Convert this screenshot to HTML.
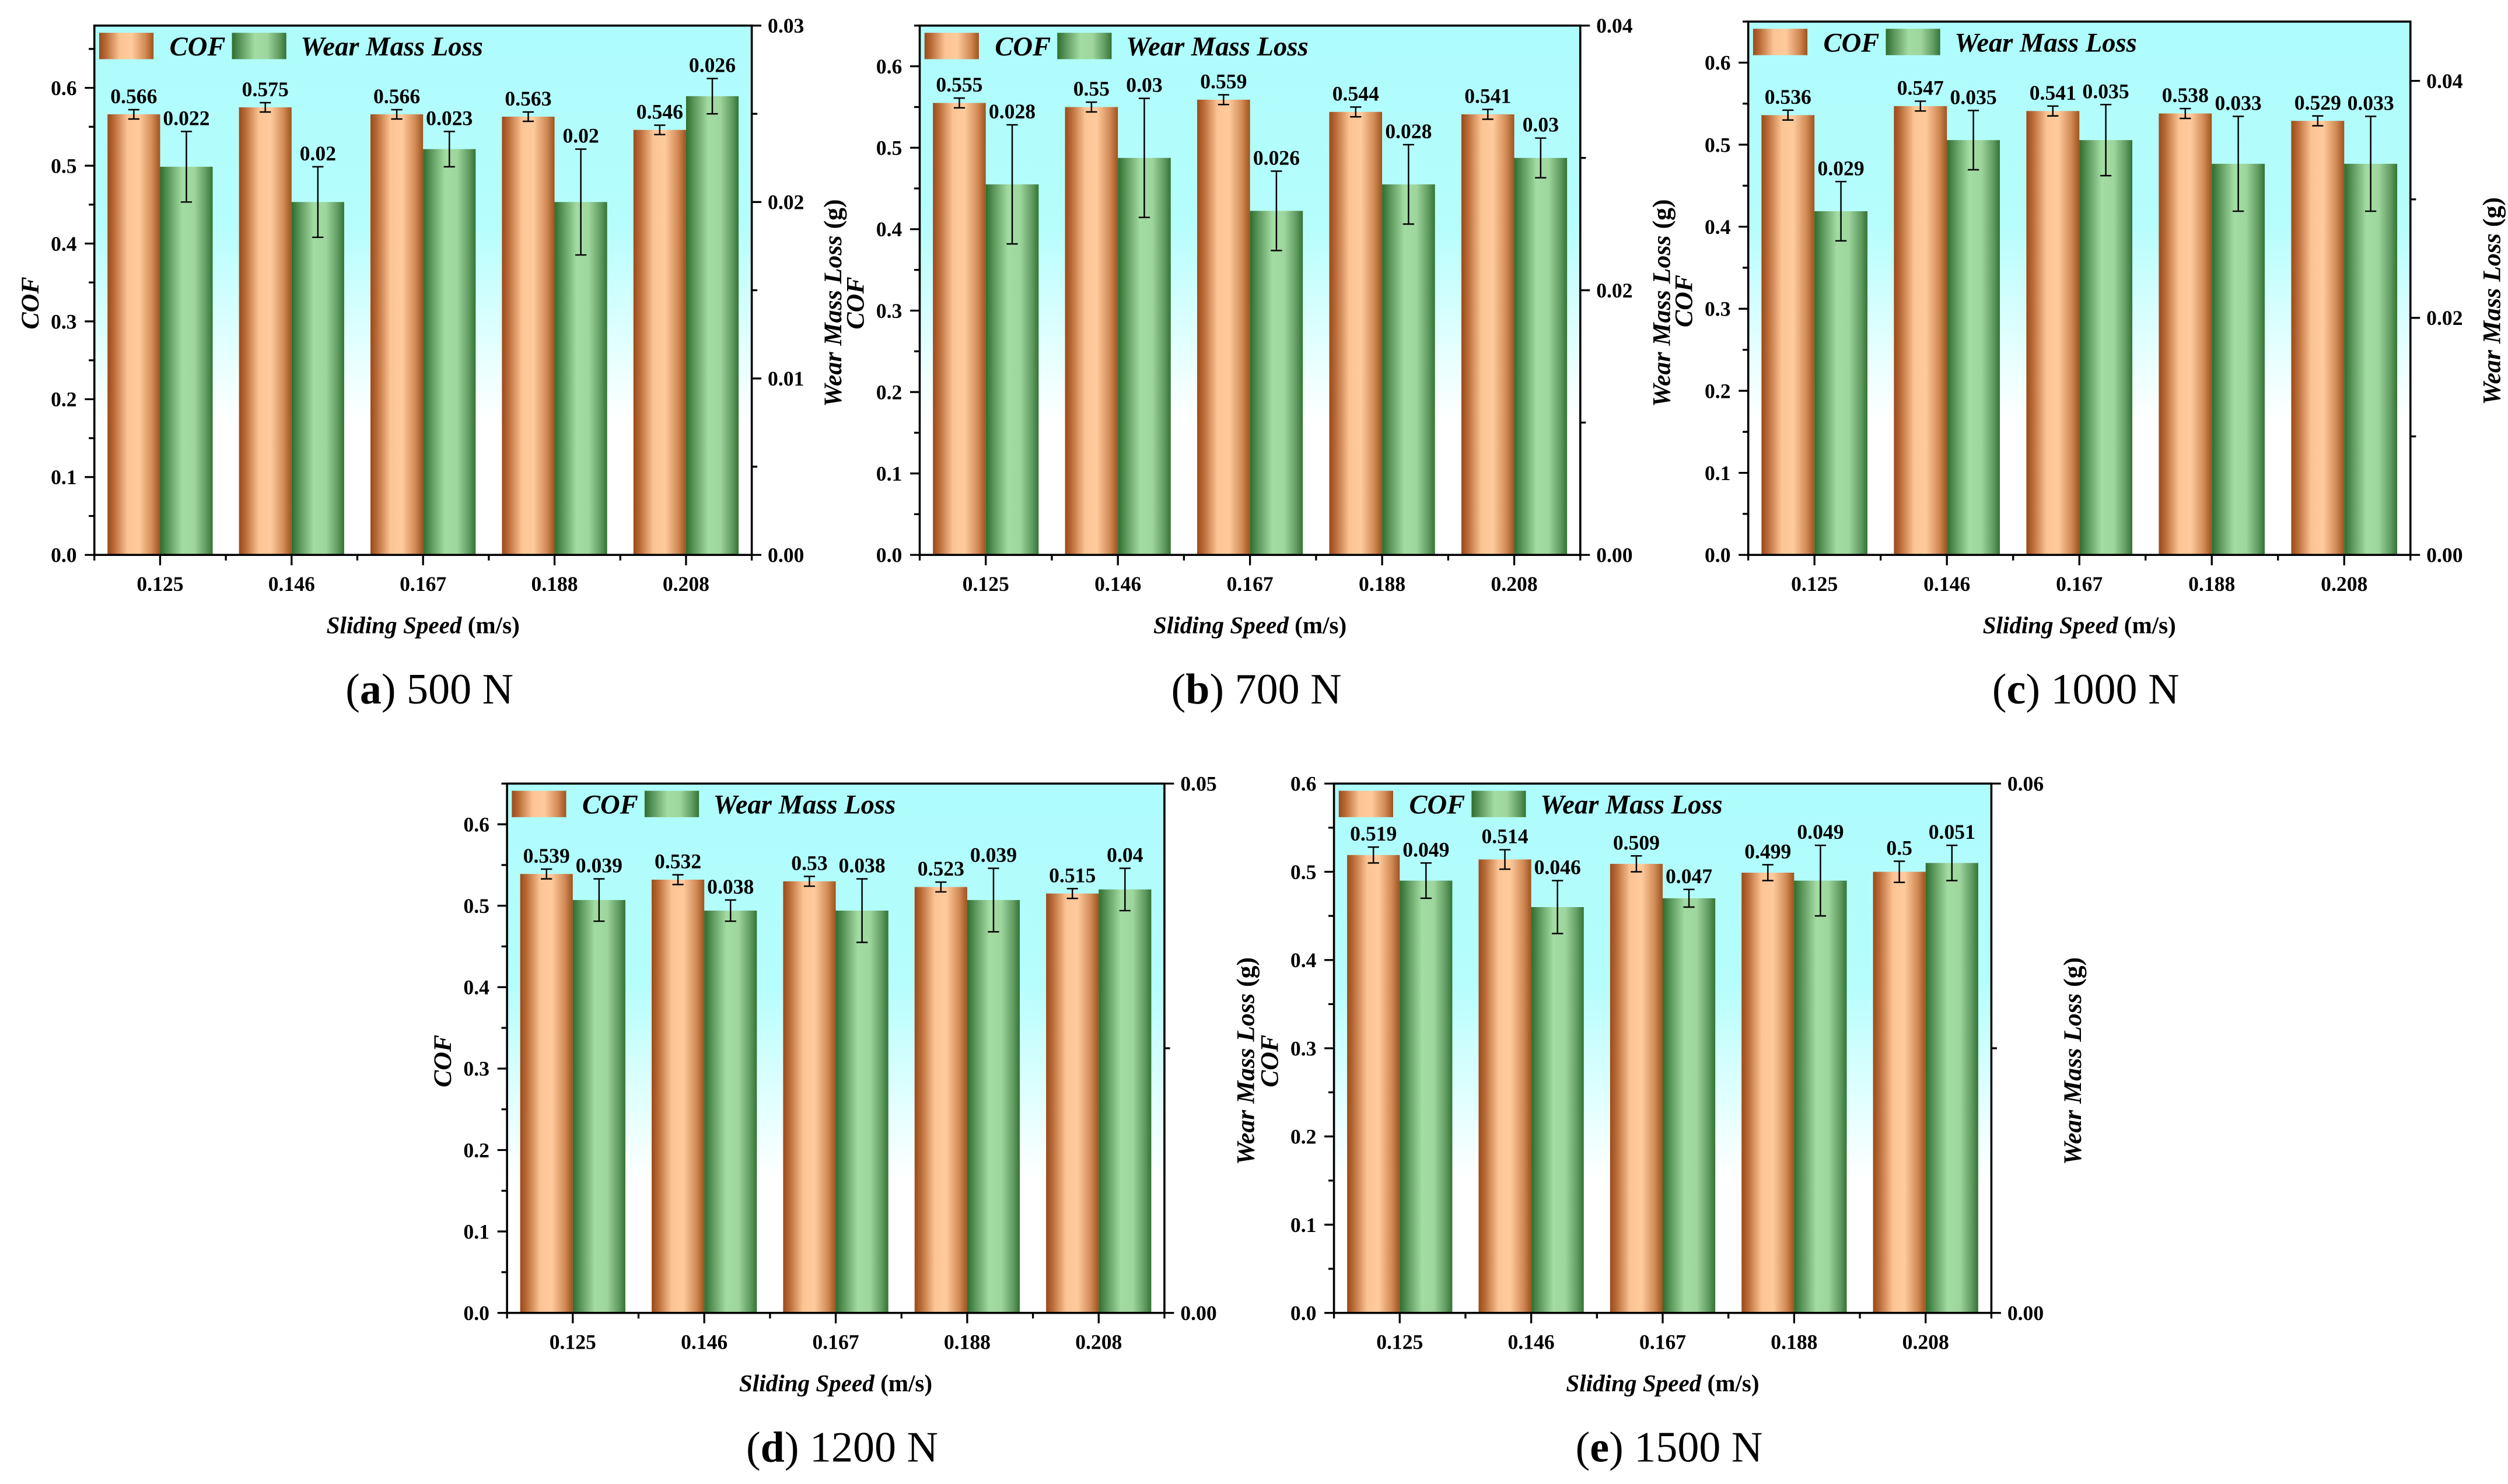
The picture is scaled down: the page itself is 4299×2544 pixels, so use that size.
<!DOCTYPE html>
<html><head><meta charset="utf-8">
<style>
html,body{margin:0;padding:0;background:#fff;}
svg{display:block;}
text{font-family:"Liberation Serif",serif;fill:#000;}
</style></head>
<body>
<svg id="fig" xmlns="http://www.w3.org/2000/svg" width="4299" height="2544" viewBox="0 0 1568 928" preserveAspectRatio="none">
<defs>
<linearGradient id="gCof" x1="0" y1="0" x2="1" y2="0">
<stop offset="0" stop-color="#9a4a1a"/><stop offset="0.12" stop-color="#b86a36"/>
<stop offset="0.38" stop-color="#fcc494"/><stop offset="0.6" stop-color="#ffcb9c"/>
<stop offset="0.85" stop-color="#d08a55"/><stop offset="1" stop-color="#a0521e"/>
</linearGradient>
<linearGradient id="gWear" x1="0" y1="0" x2="1" y2="0">
<stop offset="0" stop-color="#2e6e2e"/><stop offset="0.15" stop-color="#5a955a"/>
<stop offset="0.42" stop-color="#a2dca2"/><stop offset="0.65" stop-color="#9ed69e"/>
<stop offset="0.88" stop-color="#5f9a5f"/><stop offset="1" stop-color="#347434"/>
</linearGradient>
<linearGradient id="gBg" x1="0" y1="0" x2="0" y2="1">
<stop offset="0" stop-color="#aefcfc"/><stop offset="0.38" stop-color="#b6fdfd"/>
<stop offset="0.62" stop-color="#e6ffff"/><stop offset="0.75" stop-color="#ffffff"/>
<stop offset="1" stop-color="#ffffff"/>
</linearGradient>
</defs>
<g id="root"></g>
</svg>
<script>
const categories = ["0.125","0.146","0.167","0.188","0.208"];
const cofA = [0.566,0.575,0.566,0.563,0.546];
const cofErrA = [0.006,0.006,0.006,0.006,0.006];
const wearA = [0.022,0.020,0.023,0.020,0.026];
const wearErrA = [0.002,0.002,0.001,0.003,0.001];
const cofB = [0.555,0.550,0.559,0.544,0.541];
const cofErrB = [0.006,0.006,0.006,0.006,0.006];
const wearB = [0.028,0.030,0.026,0.028,0.030];
const wearErrB = [0.0045,0.0045,0.003,0.003,0.0015];
const cofC = [0.536,0.547,0.541,0.538,0.529];
const cofErrC = [0.006,0.006,0.006,0.006,0.006];
const wearC = [0.029,0.035,0.035,0.033,0.033];
const wearErrC = [0.0025,0.0025,0.003,0.004,0.004];
const cofD = [0.539,0.532,0.530,0.523,0.515];
const cofErrD = [0.006,0.006,0.006,0.006,0.006];
const wearD = [0.039,0.038,0.038,0.039,0.040];
const wearErrD = [0.002,0.001,0.003,0.003,0.002];
const cofE = [0.519,0.514,0.509,0.499,0.500];
const cofErrE = [0.009,0.011,0.009,0.009,0.012];
const wearE = [0.049,0.046,0.047,0.049,0.051];
const wearErrE = [0.002,0.003,0.001,0.004,0.002];
const cofTicks = [0,0.1,0.2,0.3,0.4,0.5,0.6];
const wearTicksA = [0,0.01,0.02,0.03];
const wearTicksB = [0,0.02,0.04];
const wearTicksC = [0,0.02,0.04];
const wearTicksD = [0,0.05];
const wearTicksE = [0,0.06];
const captionLetters = ["a","b","c","d","e"];
const captionLoads = ["500 N","700 N","1000 N","1200 N","1500 N"];

const NS="http://www.w3.org/2000/svg";
const root=document.getElementById('root');
function mk(tag,attrs,parent){const e=document.createElementNS(NS,tag);for(const k in attrs)e.setAttribute(k,attrs[k]);(parent||root).appendChild(e);return e;}

const panels=[
 {L:59,R:470,T:16,B:347,cofMax:0.68,wearMax:0.03,cof:cofA,cofE:cofErrA,wear:wearA,wearE:wearErrA,wt:wearTicksA,minor:0.005},
 {L:575,R:988,T:16,B:347,cofMax:0.65,wearMax:0.04,cof:cofB,cofE:cofErrB,wear:wearB,wearE:wearErrB,wt:wearTicksB,minor:0.01},
 {L:1093,R:1507,T:13.5,B:347,cofMax:0.65,wearMax:0.045,cof:cofC,cofE:cofErrC,wear:wearC,wearE:wearErrC,wt:wearTicksC,minor:0.01},
 {L:317,R:728,T:490,B:821,cofMax:0.65,wearMax:0.05,cof:cofD,cofE:cofErrD,wear:wearD,wearE:wearErrD,wt:wearTicksD,minor:0.025},
 {L:834,R:1245,T:490,B:821,cofMax:0.6,wearMax:0.06,cof:cofE,cofE:cofErrE,wear:wearE,wearE:wearErrE,wt:wearTicksE,minor:0.03}
];

panels.forEach((p,pi)=>{
 const g=mk('g',{});
 
 
 const H=p.B-p.T, W=p.R-p.L, gw=W/categories.length;
 const yC=v=>p.B-v/p.cofMax*H;
 const yW=v=>p.B-v/p.wearMax*H;
 const xG=i=>p.L+gw*i;
 const bg=mk('rect',{x:p.L,y:p.T,width:W,height:H,fill:'url(#gBg)'},g);
 
 
 // bars
 categories.forEach((c,i)=>{
  const bw=gw*0.4;
  const x1=xG(i)+gw*0.1, x2=xG(i)+gw*0.5;
  const yc=yC(p.cof[i]), yw=yW(p.wear[i]);
  const b1=mk('rect',{x:x1,y:yc,width:bw,height:p.B-yc,fill:'url(#gCof)'},g);
  
  
  const b2=mk('rect',{x:x2,y:yw,width:bw,height:p.B-yw,fill:'url(#gWear)'},g);
  
  
  // error bars
  [[x1+bw/2,p.cof[i],p.cofE[i],yC,'cof',String(p.cof[i])],[x2+bw/2,p.wear[i],p.wearE[i],yW,'wear',String(p.wear[i])]].forEach(([cx,v,e,f,nm,lab])=>{
   const t=f(v+e), b=f(v-e);
   const eb=mk('path',{d:`M${cx},${t}V${b}M${cx-3.5},${t}H${cx+3.5}M${cx-3.5},${b}H${cx+3.5}`,stroke:'#000','stroke-width':0.9,fill:'none'},g);
   
   
   const tl=mk('text',{x:cx,y:t-4,'text-anchor':'middle','font-size':13,'font-weight':'bold'},g);
   tl.textContent=lab;
   
   
  });
 });
 // frame
 const fr=mk('rect',{x:p.L,y:p.T,width:W,height:H,fill:'none',stroke:'#000','stroke-width':1.3},g);
 
 
 // left axis ticks
 for(let v=0;v<=p.cofMax+1e-9;v+=0.05){
  const y=yC(v);const major=Math.round(v*100)%10===0;
  mk('line',{x1:p.L,x2:p.L-(major?6:3.5),y1:y,y2:y,stroke:'#000','stroke-width':1.2},g);
 }
 cofTicks.forEach(v=>{
  if(v>p.cofMax)return;
  const t=mk('text',{x:p.L-11,y:yC(v)+4.5,'text-anchor':'end','font-size':13,'font-weight':'bold'},g);
  t.textContent=v.toFixed(1);
  
  
 });
 // right axis ticks
 for(let v=0;v<=p.wearMax+1e-9;v+=p.minor){
  const y=yW(v);const major=p.wt.some(m=>Math.abs(m-v)<1e-9);
  mk('line',{x1:p.R,x2:p.R+(major?6:3.5),y1:y,y2:y,stroke:'#000','stroke-width':1.2},g);
 }
 p.wt.forEach(v=>{
  const t=mk('text',{x:p.R+10,y:yW(v)+4.5,'text-anchor':'start','font-size':13,'font-weight':'bold'},g);
  t.textContent=v.toFixed(2);
  
  
 });
 // x ticks
 for(let i=0;i<=categories.length;i++){
  mk('line',{x1:xG(i),x2:xG(i),y1:p.B,y2:p.B+3.5,stroke:'#000','stroke-width':1.2},g);
 }
 categories.forEach((c,i)=>{
  const cx=xG(i)+gw/2;
  mk('line',{x1:cx,x2:cx,y1:p.B,y2:p.B+6.5,stroke:'#000','stroke-width':1.2},g);
  const t=mk('text',{x:cx,y:p.B+22.5,'text-anchor':'middle','font-size':13,'font-weight':'bold'},g);
  t.textContent=c;
  
  
 });
 // legend
 const lg=mk('g',{},g);
 
 
 mk('rect',{x:p.L+3,y:p.T+4.5,width:34,height:16.5,fill:'url(#gCof)'},lg);
 const l1=mk('text',{x:p.L+47,y:p.T+18.7,'font-size':17,'font-weight':'bold','font-style':'italic'},lg);
 l1.textContent='COF';
 
 
 mk('rect',{x:p.L+86,y:p.T+4.5,width:34,height:16.5,fill:'url(#gWear)'},lg);
 const l2=mk('text',{x:p.L+129,y:p.T+18.7,'font-size':17,'font-weight':'bold','font-style':'italic'},lg);
 l2.textContent='Wear Mass Loss';
 
 
 // axis titles
 const yc=(p.T+p.B)/2+8;
 const lt=mk('text',{x:0,y:0,transform:`translate(${p.L-35},${yc}) rotate(-90)`,'text-anchor':'middle','font-size':16,'font-weight':'bold','font-style':'italic'},g);
 lt.textContent='COF';
 
 
 const rt=mk('text',{x:0,y:0,transform:`translate(${p.R+56},${yc}) rotate(-90)`,'text-anchor':'middle','font-size':16,'font-weight':'bold'},g);
 const rs1=mk('tspan',{'font-style':'italic'},rt);rs1.textContent='Wear Mass Loss ';
 const rs2=mk('tspan',{},rt);rs2.textContent='(g)';
 
 
 const xt=mk('text',{x:(p.L+p.R)/2,y:p.B+49,'text-anchor':'middle','font-size':15,'font-weight':'bold'},g);
 const xs1=mk('tspan',{'font-style':'italic'},xt);xs1.textContent='Sliding Speed ';
 const xs2=mk('tspan',{},xt);xs2.textContent='(m/s)';
 
 
 const cap=mk('text',{x:(p.L+p.R)/2+4,y:p.B+93,'text-anchor':'middle','font-size':27},g);
 const c1=mk('tspan',{},cap);c1.textContent='(';
 const c2=mk('tspan',{'font-weight':'bold'},cap);c2.textContent=captionLetters[pi];
 const c3=mk('tspan',{},cap);c3.textContent=') '+captionLoads[pi];
 
 
});
</script>
</body></html>
